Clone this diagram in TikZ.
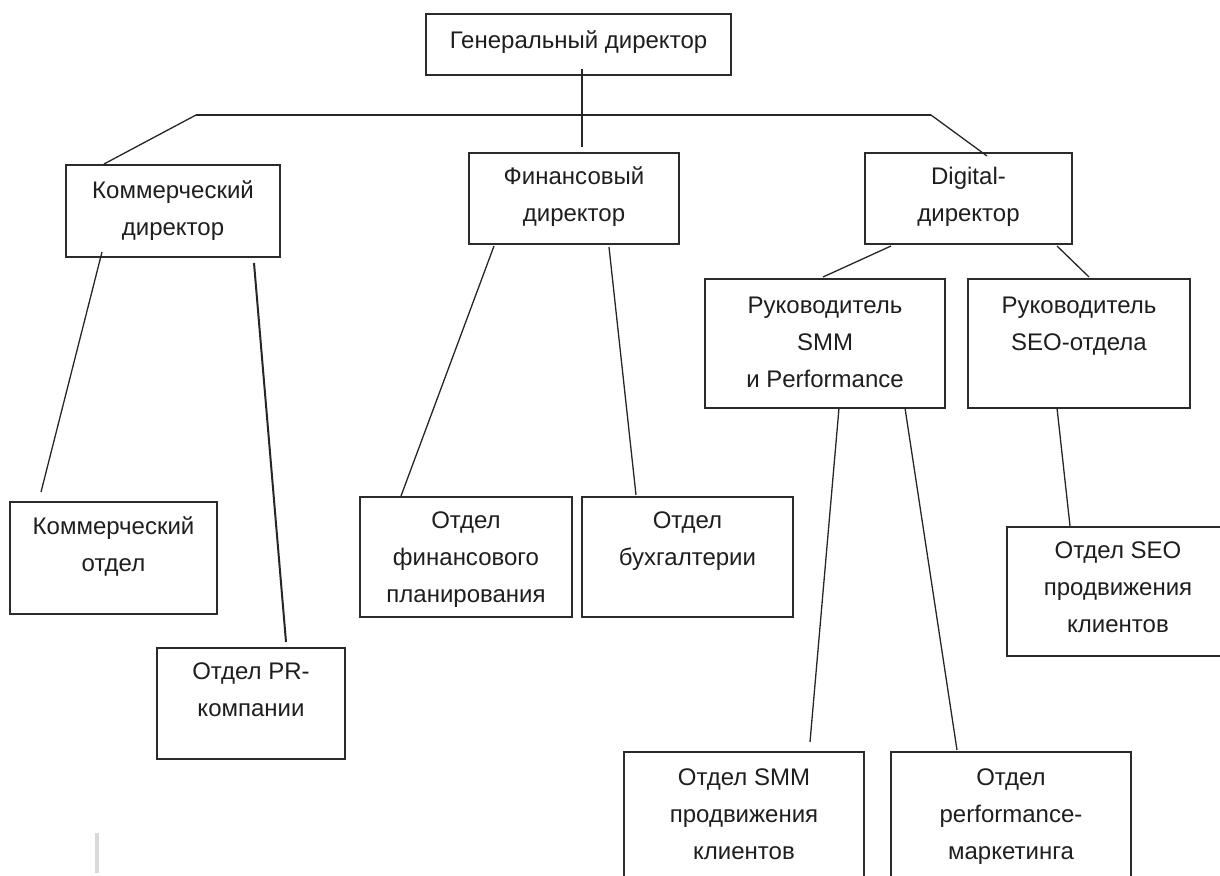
\documentclass[tikz,border=0pt]{standalone}
\usepackage{fontspec}
\setmainfont{Liberation Sans}
\usetikzlibrary{calc}
\definecolor{boxc}{HTML}{2B2B2B}
\definecolor{linec}{HTML}{262626}
\definecolor{txtc}{HTML}{1E1E1E}
\definecolor{strayc}{HTML}{D9D9D9}
\newcommand\btext[4]{\parbox[t][#2pt][t]{#1pt}{\vspace*{#3pt}\centering\strut #4\par}}
\tikzset{
  orgbox/.style={draw=boxc, line width=1.6pt, inner sep=0pt, outer sep=0pt,
    anchor=north west, text=txtc, font=\fontsize{24}{37}\selectfont},
  conn/.style={draw=linec, line width=1.3pt},
  thickconn/.style={draw=linec, line width=2pt},
  stray/.style={draw=strayc, line width=4pt},
}
\begin{document}
\begin{tikzpicture}[x={(1pt,0pt)}, y={(0pt,-1pt)}]
\useasboundingbox (0,0) rectangle (1220,875);
\clip (0,0) rectangle (1220,875);

% boxes
\node[orgbox] (gd) at (426,14)  {\btext{305}{61}{9}{Генеральный директор}};
\node[orgbox] (kd) at (66,165)  {\btext{214}{92}{8}{Коммерческий\\директор}};
\node[orgbox] (fd) at (469,153) {\btext{210}{91}{6}{Финансовый\\директор}};
\node[orgbox] (dd) at (865,153) {\btext{207}{91}{6}{Digital-\\директор}};
\node[orgbox] (rs) at (705,279) {\btext{240}{129}{9}{Руководитель\\SMM\\и Performance}};
\node[orgbox] (re) at (968,279) {\btext{222}{129}{9}{Руководитель\\SEO-отдела}};
\node[orgbox] (ko) at (10,502)  {\btext{207}{112}{7}{Коммерческий\\отдел}};
\node[orgbox] (pr) at (157,648) {\btext{188}{111}{6}{Отдел PR-\\компании}};
\node[orgbox] (fp) at (360,497) {\btext{212}{120}{6}{Отдел\\финансового\\планирования}};
\node[orgbox] (bu) at (582,497) {\btext{211}{120}{6}{Отдел\\бухгалтерии}};
\node[orgbox] (so) at (1007,527) {\btext{222}{129}{6}{Отдел SEO\\продвижения\\клиентов}};
\node[orgbox] (sd) at (624,752) {\btext{240}{140}{8}{Отдел SMM\\продвижения\\клиентов}};
\node[orgbox] (pd) at (891,752) {\btext{240}{140}{8}{Отдел\\performance-\\маркетинга}};

% trunk
\coordinate (tl) at (196,115);
\coordinate (tr) at (931,115);
\draw[conn] ($(gd.south west)+(156,-6)$) -- ($(fd.north west)+(113,-6)$);
\draw[conn] (tl) -- (tr);
\draw[conn] (tl) -- ($(kd.north west)+(38,-1)$);
\draw[conn] (tr) -- ($(dd.north west)+(122,3)$);

% commercial
\draw[conn] ($(kd.south west)+(36,-5)$) -- ($(ko.north west)+(31,-10)$);
\draw[thickconn] ($(kd.south west)+(188,6)$) -- ($(pr.north west)+(129,-6)$);

% finance
\draw[conn] ($(fd.south west)+(25,2)$) -- ($(fp.north west)+(41,-1)$);
\draw[conn] ($(fd.south west)+(140,3)$) -- ($(bu.north west)+(54,-2)$);

% digital
\draw[conn] ($(dd.south west)+(26,2)$) -- ($(rs.north west)+(118,-2)$);
\draw[conn] ($(dd.south west)+(192,2)$) -- ($(re.north west)+(121,-2)$);
\draw[conn] ($(rs.south west)+(134,0)$) -- ($(sd.north west)+(186,-10)$);
\draw[conn] ($(rs.south west)+(200,0)$) -- ($(pd.north west)+(66,-2)$);
\draw[conn] ($(re.south west)+(89,0)$) -- ($(so.north west)+(63,-1)$);

% stray mark
\coordinate (g1) at (97,833);
\coordinate (g2) at (97,873);
\draw[stray] (g1) -- (g2);
\end{tikzpicture}
\end{document}
